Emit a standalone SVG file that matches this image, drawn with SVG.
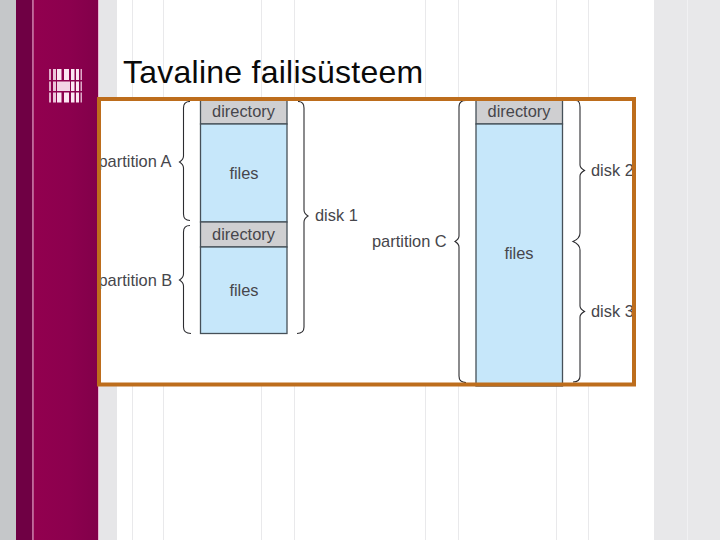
<svg xmlns="http://www.w3.org/2000/svg" width="720" height="540" viewBox="0 0 720 540">
<defs>
<linearGradient id="mag" x1="0" x2="1" y1="0" y2="0"><stop offset="0" stop-color="#92004f"/><stop offset="0.55" stop-color="#8c004e"/><stop offset="1" stop-color="#82004a"/></linearGradient>
<clipPath id="inner"><rect x="101" y="101" width="531" height="282"/></clipPath>
</defs>
<style>
.grid{stroke:#e9e9eb;stroke-width:1;fill:none}
.lab{font-family:"Liberation Sans",Arial,sans-serif;font-size:16.400px;fill:#46464b}
.mid{text-anchor:middle}
.dir{fill:#cfcfd1;stroke:#465058;stroke-width:1.300}
.fil{fill:#c6e7fa;stroke:#465058;stroke-width:1.300}
.br{fill:none;stroke:#2c2c30;stroke-width:1.100}
</style>
<g id="background">
<rect width="720" height="540" fill="#fff"/>
<rect x="0" y="0" width="16" height="540" fill="#c5c7c9"/>
<rect x="16" y="0" width="16" height="540" fill="#6f0044"/>
<rect x="32" y="0" width="1.500" height="540" fill="#c06a9c"/>
<rect x="33.500" y="0" width="64.500" height="540" fill="url(#mag)"/>
<rect x="98" y="0" width="1" height="540" fill="#eab6d4"/>
<rect x="99" y="0" width="18" height="540" fill="#e6e6e8"/>
<rect x="654" y="0" width="66" height="540" fill="#e8e8ea"/>
<rect x="687" y="0" width="1" height="540" fill="#f1f1f3"/>
<path class="grid" d="M132.500 0V540M163.500 0V540M261.500 0V540M294.500 0V540M425.500 0V540M458.500 0V540M556.500 0V540M588.500 0V540"/>
</g>
<g id="logo" fill="#fbe6f2">
<rect x="49" y="69" width="2" height="11" opacity=".75"/><rect x="53" y="69" width="3" height="11" opacity=".85"/><rect x="57" y="69" width="4.500" height="11"/><rect x="64" y="69" width="5" height="11"/><rect x="71" y="69" width="3.500" height="11"/><rect x="76" y="69" width="3" height="11"/><rect x="80.500" y="69" width="1.500" height="11" opacity=".75"/>
<rect x="49" y="81.500" width="2" height="9.500" opacity=".75"/><rect x="53" y="81.500" width="3" height="9.500" opacity=".85"/><rect x="57" y="81.500" width="13" height="9.500" fill="#f3d3e5"/><rect x="71" y="81.500" width="3.500" height="9.500"/><rect x="76" y="81.500" width="3" height="9.500"/><rect x="80.500" y="81.500" width="1.500" height="9.500" opacity=".75"/>
<rect x="49" y="92.500" width="2" height="10" opacity=".75"/><rect x="53" y="92.500" width="3" height="10" opacity=".85"/><rect x="57" y="92.500" width="4.500" height="10"/><rect x="64" y="92.500" width="5" height="10"/><rect x="71" y="92.500" width="3.500" height="10"/><rect x="76" y="92.500" width="3" height="10"/><rect x="80.500" y="92.500" width="1.500" height="10" opacity=".75"/>
</g>
<text id="title" x="123" y="83" font-family="'Liberation Sans',Arial,sans-serif" font-size="32" letter-spacing="0.250" fill="#0a0a0a">Tavaline failisüsteem</text>
<rect x="101" y="101" width="531" height="282" fill="#fff"/>
<g id="disk-left">
<rect class="dir" x="200.500" y="100" width="86.500" height="24"/>
<rect class="fil" x="200.500" y="124" width="86.500" height="98"/>
<rect class="dir" x="200.500" y="222" width="86.500" height="25"/>
<rect class="fil" x="200.500" y="247" width="86.500" height="86.500"/>
<text class="lab mid" x="243.500" y="117">directory</text>
<text class="lab mid" x="244" y="178.500">files</text>
<text class="lab mid" x="243.500" y="240">directory</text>
<text class="lab mid" x="244" y="295.500">files</text>
</g>
<g id="disk-right">
<rect class="dir" x="476" y="100" width="86.500" height="24"/>
<rect class="fil" x="476" y="124" width="86.500" height="262"/>
<text class="lab mid" x="519" y="117">directory</text>
<text class="lab mid" x="519" y="259">files</text>
</g>
<g id="connectors" clip-path="url(#inner)">
<path class="br" d="M190 101.500Q183.500 101.500 183.500 108V156Q183.500 159.500 179.500 162Q183.500 164.500 183.500 168V214Q183.500 220.500 190 220.500"/>
<path class="br" d="M190 225.500Q183.500 225.500 183.500 232V274Q183.500 277.500 179.500 280Q183.500 282.500 183.500 286V327Q183.500 333.500 191 333.500"/>
<path class="br" d="M298 101.500Q304 101.500 304 108V210Q304 213.500 308 216Q304 218.500 304 222V327Q304 333.500 297 333.500"/>
<path class="br" d="M466 100.500Q459 100.500 459 107V236Q459 239 455 241.500Q459 244 459 247V376Q459 382.500 466 382.500"/>
<path class="br" d="M576 100.500Q580 100.500 580 107V165Q580 168 584.500 170.500Q580 173 580 176V233Q580 238.500 573 241.500Q580 244.500 580 250V306Q580 309 584.500 311.500Q580 314 580 317V376Q580 382 573 382"/>
</g>
<g id="labels">
<text class="lab" x="98.500" y="166.500">partition A</text>
<text class="lab" x="98.500" y="285.500">partition B</text>
<text class="lab" x="315" y="221">disk 1</text>
<text class="lab" x="372" y="246.500">partition C</text>
<text class="lab" x="591" y="175.500">disk 2</text>
<text class="lab" x="591" y="317">disk 3</text>
</g>
<rect id="frame" x="99" y="99" width="535" height="285.500" fill="none" stroke="#bd6d1c" stroke-width="4"/>
</svg>
